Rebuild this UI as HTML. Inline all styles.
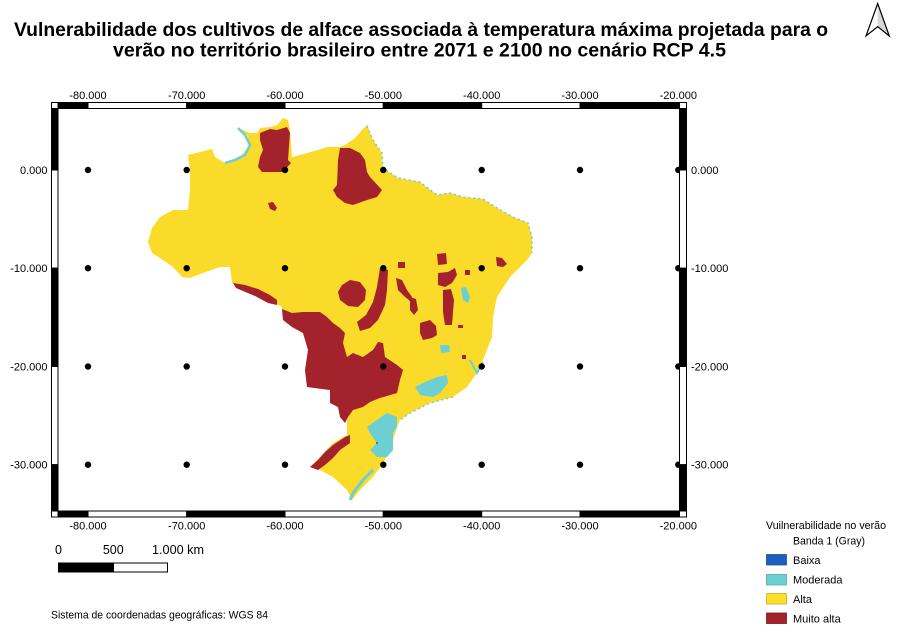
<!DOCTYPE html>
<html><head><meta charset="utf-8"><style>
html,body{margin:0;padding:0;background:#fff;}
svg{display:block;}
text{font-family:"Liberation Sans",Arial,sans-serif;fill:#000;}
</style></head><body>
<svg width="900" height="636" viewBox="0 0 900 636" xmlns="http://www.w3.org/2000/svg">
<rect width="900" height="636" fill="#fff"/>
<!-- Title -->
<text x="14" y="36" font-size="19" font-weight="bold" textLength="814" lengthAdjust="spacingAndGlyphs">Vulnerabilidade dos cultivos de alface associada à temperatura máxima projetada para o</text>
<text x="113" y="56.5" font-size="19" font-weight="bold" textLength="613" lengthAdjust="spacingAndGlyphs">verão no território brasileiro entre 2071 e 2100 no cenário RCP 4.5</text>
<!-- North arrow -->
<polygon points="877.7,3.5 877.7,26.7 889.3,36" fill="#d8d8d8"/>
<polygon points="877.7,3.5 866,36 877.7,26.7 889.3,36" fill="none" stroke="#000" stroke-width="1.2" stroke-linejoin="miter"/>

<!-- Map -->
<g>
<!-- Brazil -->
<polygon fill="#fbdb2a" points="148,242 152,228 160,217 173,210 188,210 190,190 190,170 188,155 200,152 212,149 215,157 225,163 240,157 250,145 247,135 238,128 250,133 257,133 260,128 270,127 277,125 283,118 288,120 290,130 292,157 300,155 307,153 318,150 327,147 340,147 345,145 355,138 362,130 367,125 373,140 382,153 383,168 398,178 420,182 437,195 450,193 463,197 483,199 497,208 513,217 528,223 532,237 532,253 527,260 510,277 497,297 493,317 492,337 483,360 477,373 467,387 453,397 430,403 410,413 400,420 397,427 390,450 383,463 373,477 360,490 352,500 347,490 333,477 320,470 310,467 320,457 333,443 347,435 347,417 340,410 333,403 330,390 307,387 305,370 308,350 303,333 292,327 283,320 282,307 273,302 263,295 245,287 232,283 230,267 220,267 203,273 190,278 182,277 173,267 163,260 152,253"/>
<!-- Red regions -->
<g fill="#a4222c">
<polygon points="260,133 270,129 277,130 287,127 290,133 288,160 291,163 283,172 262,172 258,167 260,157 263,150 260,140"/>
<polygon points="340,148 350,148 360,153 365,160 367,172 370,177 382,190 377,197 367,200 353,205 345,203 337,197 333,190 337,185 338,160"/>
<polygon points="268,203 273,202 277,208 275,211 270,209"/>
<polygon points="233,283 245,285 258,289 270,295 277,300 277,305 268,303 255,296 243,291 236,288"/>
<polygon points="282,309 292,313 303,312 320,312 327,317 333,323 340,328 345,333 343,343 347,357 353,353 363,357 373,350 378,342 383,343 385,357 397,365 403,370 400,380 397,393 380,398 370,402 363,407 353,410 348,417 345,423 340,417 338,407 330,403 330,390 307,387 305,370 308,350 303,333 292,327 283,320"/>
<polygon points="380,268 388,270 387,290 385,305 378,320 370,328 360,331 357,322 366,315 373,302 377,287"/>
<polygon points="342,285 350,280 360,282 366,290 365,300 358,307 348,306 340,300 338,292"/>
<polygon points="310,467 318,460 325,452 333,445 345,437 350,435 350,443 340,450 333,458 325,465 318,470"/>
<polygon points="396,278 402,280 407,290 412,297 410,301 404,296 398,290"/>
<polygon points="410,297 416,299 418,310 414,315 410,310"/>
<polygon points="398,262 405,262 405,268 398,268"/>
<polygon points="437,254 446,253 447,264 438,265"/>
<polygon points="438,273 448,272 455,268 457,275 452,283 445,287 438,285"/>
<polygon points="443,290 451,289 454,300 453,312 452,325 445,325 443,312"/>
<polygon points="420,323 430,320 436,326 437,335 432,338 423,340 420,333"/>
<polygon points="496,257 502,258 507,264 503,267 497,266"/>
<polygon points="465,270 470,270 470,275 465,275"/>
<polygon points="458,325 463,325 463,328 458,328"/>
<polygon points="462,355 466,355 466,359 462,359"/>
</g>
<!-- Cyan regions -->
<g fill="#6ccfd1">
<polygon points="415,387 423,383 437,377 447,375 448,383 440,393 433,397 420,395"/>
<polygon points="367,427 377,420 387,413 397,417 397,427 393,433 393,450 387,457 377,457 370,450 377,443 370,433"/>
<polygon points="440,345 449,345 450,352 441,353"/>
<polygon points="461,288 466,287 470,297 468,303 463,300"/>
</g>
<g fill="none" stroke="#6ccfd1">
<polyline points="238,128 245,135 250,145 245,155 235,160 225,163" stroke-width="2.5"/>
<polyline points="373,470 363,480 353,493 350,500" stroke-width="3"/>
<polyline points="470,360 477,373 483,362" stroke-width="2"/>
<polyline points="367,126 373,140 382,153 383,168 398,178 420,182 437,195 450,193 463,197 483,199 497,208 513,217 528,223 532,237 532,253" stroke-width="1.5" stroke-dasharray="2 3"/>
<polyline points="453,397 430,403 410,413 400,420" stroke-width="1.5" stroke-dasharray="2 3"/>
</g>
<circle cx="377" cy="443" r="1" fill="#1c5fbd"/>
</g>

<!-- Grid dots -->
<g fill="#000">
<circle cx="88" cy="170" r="3.2"/><circle cx="186.7" cy="170" r="3.2"/><circle cx="285" cy="170" r="3.2"/><circle cx="383.3" cy="170" r="3.2"/><circle cx="481.7" cy="170" r="3.2"/><circle cx="580" cy="170" r="3.2"/><circle cx="678.3" cy="170" r="3.2"/>
<circle cx="88" cy="268.2" r="3.2"/><circle cx="186.7" cy="268.2" r="3.2"/><circle cx="285" cy="268.2" r="3.2"/><circle cx="383.3" cy="268.2" r="3.2"/><circle cx="481.7" cy="268.2" r="3.2"/><circle cx="580" cy="268.2" r="3.2"/><circle cx="678.3" cy="268.2" r="3.2"/>
<circle cx="88" cy="366.5" r="3.2"/><circle cx="186.7" cy="366.5" r="3.2"/><circle cx="285" cy="366.5" r="3.2"/><circle cx="383.3" cy="366.5" r="3.2"/><circle cx="481.7" cy="366.5" r="3.2"/><circle cx="580" cy="366.5" r="3.2"/><circle cx="678.3" cy="366.5" r="3.2"/>
<circle cx="88" cy="464.7" r="3.2"/><circle cx="186.7" cy="464.7" r="3.2"/><circle cx="285" cy="464.7" r="3.2"/><circle cx="383.3" cy="464.7" r="3.2"/><circle cx="481.7" cy="464.7" r="3.2"/><circle cx="580" cy="464.7" r="3.2"/><circle cx="678.3" cy="464.7" r="3.2"/>
</g>

<!-- Frame -->
<g stroke="#000" stroke-width="1">
<!-- top -->
<rect x="51.5" y="102.5" width="6.5" height="6" fill="#fff"/>
<rect x="58" y="102.5" width="30" height="6" fill="#000"/>
<rect x="88" y="102.5" width="98.7" height="6" fill="#fff"/>
<rect x="186.7" y="102.5" width="98.3" height="6" fill="#000"/>
<rect x="285" y="102.5" width="98.3" height="6" fill="#fff"/>
<rect x="383.3" y="102.5" width="98.4" height="6" fill="#000"/>
<rect x="481.7" y="102.5" width="98.3" height="6" fill="#fff"/>
<rect x="580" y="102.5" width="99.5" height="6" fill="#000"/>
<rect x="679.5" y="102.5" width="7" height="6" fill="#fff"/>
<!-- bottom -->
<rect x="51.5" y="511" width="6.5" height="6" fill="#fff"/>
<rect x="58" y="511" width="30" height="6" fill="#000"/>
<rect x="88" y="511" width="98.7" height="6" fill="#fff"/>
<rect x="186.7" y="511" width="98.3" height="6" fill="#000"/>
<rect x="285" y="511" width="98.3" height="6" fill="#fff"/>
<rect x="383.3" y="511" width="98.4" height="6" fill="#000"/>
<rect x="481.7" y="511" width="98.3" height="6" fill="#fff"/>
<rect x="580" y="511" width="99.5" height="6" fill="#000"/>
<rect x="679.5" y="511" width="7" height="6" fill="#fff"/>
<!-- left -->
<rect x="51.5" y="108.5" width="6.5" height="61.5" fill="#000"/>
<rect x="51.5" y="170" width="6.5" height="98.2" fill="#fff"/>
<rect x="51.5" y="268.2" width="6.5" height="98.3" fill="#000"/>
<rect x="51.5" y="366.5" width="6.5" height="98.2" fill="#fff"/>
<rect x="51.5" y="464.7" width="6.5" height="46.3" fill="#000"/>
<!-- right -->
<rect x="679.5" y="108.5" width="7" height="61.5" fill="#000"/>
<rect x="679.5" y="170" width="7" height="98.2" fill="#fff"/>
<rect x="679.5" y="268.2" width="7" height="98.3" fill="#000"/>
<rect x="679.5" y="366.5" width="7" height="98.2" fill="#fff"/>
<rect x="679.5" y="464.7" width="7" height="46.3" fill="#000"/>
</g>

<!-- Axis labels -->
<g font-size="11" text-anchor="middle">
<text x="88" y="99">-80.000</text><text x="186.7" y="99">-70.000</text><text x="285" y="99">-60.000</text><text x="383.3" y="99">-50.000</text><text x="481.7" y="99">-40.000</text><text x="580" y="99">-30.000</text><text x="678.3" y="99">-20.000</text>
<text x="88" y="529.5">-80.000</text><text x="186.7" y="529.5">-70.000</text><text x="285" y="529.5">-60.000</text><text x="383.3" y="529.5">-50.000</text><text x="481.7" y="529.5">-40.000</text><text x="580" y="529.5">-30.000</text><text x="678.3" y="529.5">-20.000</text>
</g>
<g font-size="11" text-anchor="end">
<text x="47.5" y="174">0.000</text><text x="47.5" y="272.2">-10.000</text><text x="47.5" y="370.5">-20.000</text><text x="47.5" y="468.7">-30.000</text>
</g>
<g font-size="11" text-anchor="start">
<text x="691" y="174">0.000</text><text x="691" y="272.2">-10.000</text><text x="691" y="370.5">-20.000</text><text x="691" y="468.7">-30.000</text>
</g>

<!-- Scale bar -->
<g font-size="12.5">
<text x="55" y="554">0</text>
<text x="113.3" y="554" text-anchor="middle">500</text>
<text x="152" y="554" textLength="52" lengthAdjust="spacingAndGlyphs">1.000 km</text>
</g>
<rect x="58.5" y="563" width="55" height="9" fill="#000" stroke="#000" stroke-width="1"/>
<rect x="113.5" y="563" width="54" height="9" fill="#fff" stroke="#000" stroke-width="1"/>

<text x="51" y="618.5" font-size="11" textLength="217" lengthAdjust="spacingAndGlyphs">Sistema de coordenadas geográficas: WGS 84</text>

<!-- Legend -->
<text x="766" y="529" font-size="11" textLength="120" lengthAdjust="spacingAndGlyphs">Vuilnerabilidade no verão</text>
<text x="793" y="544.5" font-size="11" textLength="72" lengthAdjust="spacingAndGlyphs">Banda 1 (Gray)</text>
<rect x="766.5" y="554.5" width="20" height="10.5" fill="#1c5fbd" stroke="#2a4f8a" stroke-width="0.8"/>
<rect x="766.5" y="574.5" width="20" height="10.5" fill="#6ccfd1" stroke="#5aa8aa" stroke-width="0.8"/>
<rect x="766.5" y="593.5" width="20" height="10.5" fill="#fbdf2b" stroke="#c8b030" stroke-width="0.8"/>
<rect x="766.5" y="613" width="20" height="10.5" fill="#a4222c" stroke="#7a1a20" stroke-width="0.8"/>
<g font-size="11">
<text x="793" y="564">Baixa</text>
<text x="793" y="583.5">Moderada</text>
<text x="793" y="603">Alta</text>
<text x="793" y="622.5">Muito alta</text>
</g>
</svg>
</body></html>
